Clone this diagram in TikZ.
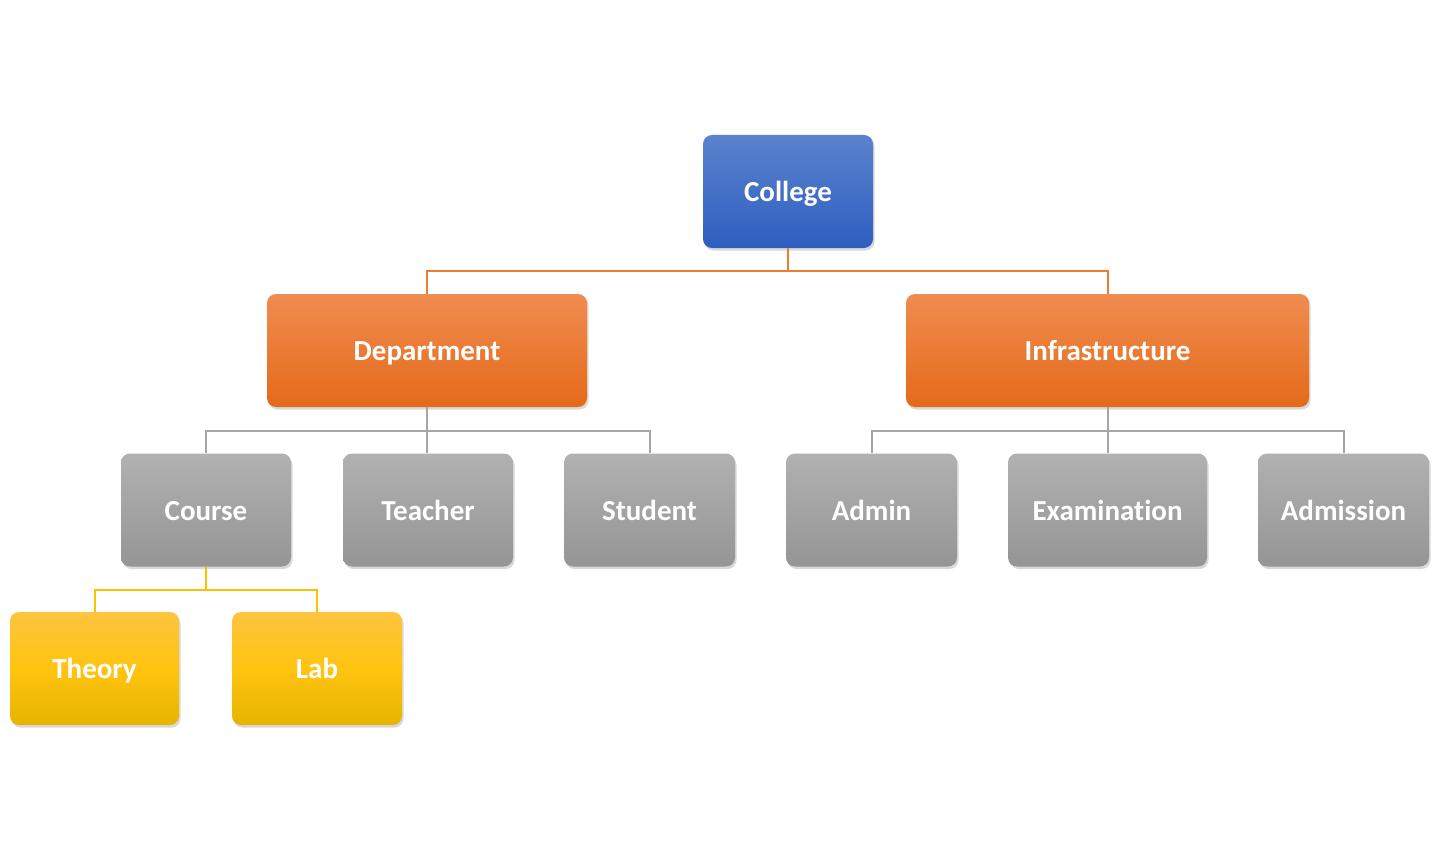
\documentclass[tikz,border=0pt]{standalone}
\usepackage{fontspec}
\setmainfont{Carlito}[Ligatures=NoCommon]
\usetikzlibrary{shadows}
\definecolor{bluetop}{HTML}{5A82CE}
\definecolor{bluebot}{HTML}{2E5EBF}
\definecolor{orangetop}{HTML}{F08C50}
\definecolor{orangebot}{HTML}{E46A1A}
\definecolor{graytop}{HTML}{B1B1B1}
\definecolor{graybot}{HTML}{959595}
\definecolor{yellowtop}{HTML}{FEC43F}
\definecolor{yellowmid}{HTML}{FFC410}
\definecolor{yellowbot}{HTML}{E6B400}
\definecolor{oline}{HTML}{ED7D31}
\definecolor{gline}{HTML}{A5A5A5}
\definecolor{yline}{HTML}{FFC000}
\tikzset{
  box/.style={rounded corners=9pt, inner sep=0pt, text=white,
    font=\fontsize{29}{33}\selectfont\bfseries, minimum height=113pt,
    text height=22pt, text depth=2pt,
    drop shadow={opacity=0.3, shadow xshift=1.5pt, shadow yshift=-2.5pt}},
  bluebox/.style={box, top color=bluetop, bottom color=bluebot},
  orangebox/.style={box, top color=orangetop, bottom color=orangebot},
  graybox/.style={box, top color=graytop, bottom color=graybot},
  yellowbox/.style={box, top color=yellowtop, bottom color=yellowbot, middle color=yellowmid},
  oconn/.style={draw=oline, line width=2pt},
  gconn/.style={draw=gline, line width=2pt},
  yconn/.style={draw=yline, line width=2pt},
}
\begin{document}
\begin{tikzpicture}
\useasboundingbox (0,0) rectangle (1439pt,-861pt);
\node[bluebox, minimum width=170pt] (college) at (788pt,-191.5pt) {College};
\node[orangebox, minimum width=320pt] (dept) at (427pt,-350.5pt) {Department};
\node[orangebox, minimum width=403pt] (infra) at (1107.5pt,-350.5pt) {Infrastructure};
\node[graybox, minimum width=170pt] (course) at (206pt,-510pt) {Course};
\node[graybox, minimum width=170pt] (teacher) at (428pt,-510pt) {Teacher};
\node[graybox, minimum width=171pt] (student) at (649.5pt,-510pt) {Student};
\node[graybox, minimum width=171pt] (admin) at (871.5pt,-510pt) {Admin};
\node[graybox, minimum width=199pt] (exam) at (1107.5pt,-510pt) {Examination};
\node[graybox, minimum width=171pt] (admission) at (1343.5pt,-510pt) {Admission};
\node[yellowbox, minimum width=169pt] (theory) at (94.5pt,-668.5pt) {Theory};
\node[yellowbox, minimum width=170pt] (lab) at (317pt,-668.5pt) {Lab};
\coordinate (obar) at (0,-271pt);
\coordinate (gbar) at (0,-431pt);
\coordinate (ybar) at (0,-590pt);
\draw[oconn] (college.south) -- (college.south |- obar) -| (dept.north);
\draw[oconn] (college.south |- obar) -| (infra.north);
\draw[gconn] (dept.south) -- (dept.south |- gbar) -| (course.north);
\draw[gconn] (dept.south |- gbar) -| (student.north);
\draw[gconn] (dept.south) -- (dept.south |- teacher.north);
\draw[gconn] (infra.south) -- (infra.south |- gbar) -| (admin.north);
\draw[gconn] (infra.south |- gbar) -| (admission.north);
\draw[gconn] (infra.south) -- (exam.north);
\draw[yconn] (course.south) -- (course.south |- ybar) -| (theory.north);
\draw[yconn] (course.south |- ybar) -| (lab.north);
\end{tikzpicture}
\end{document}
